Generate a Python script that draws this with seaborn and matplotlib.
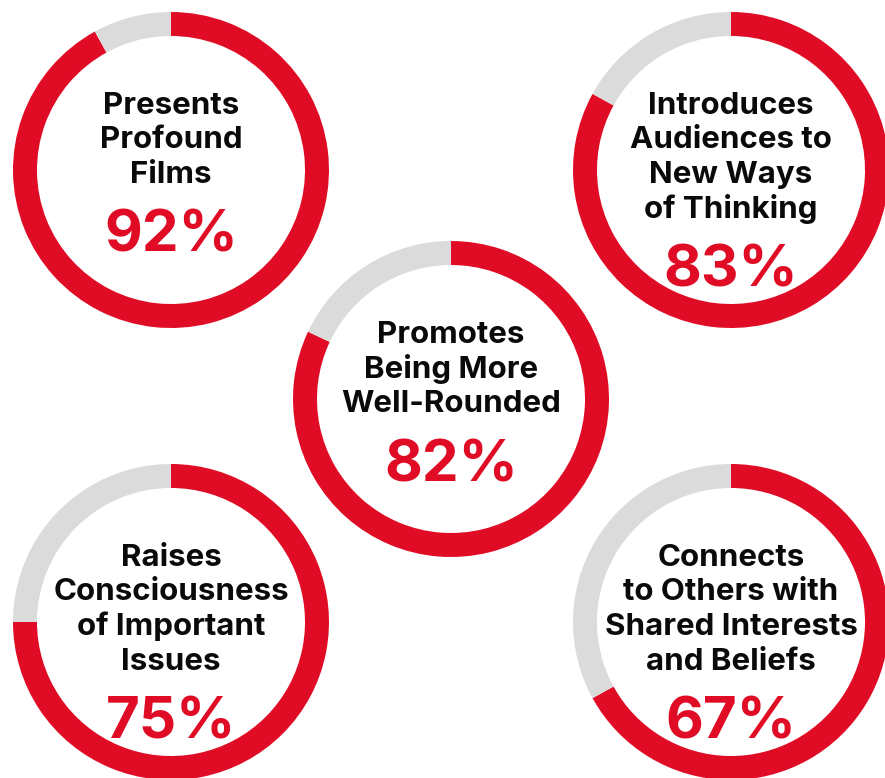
import matplotlib
matplotlib.use("Agg")
import matplotlib.pyplot as plt
import seaborn as sns

# ---- data ----
labels = [
    "Presents\nProfound\nFilms",
    "Introduces\nAudiences to\nNew Ways\nof Thinking",
    "Promotes\nBeing More\nWell-Rounded",
    "Raises\nConsciousness\nof Important\nIssues",
    "Connects\nto Others with\nShared Interests\nand Beliefs",
]
values = [92, 83, 82, 75, 67]

# ---- style ----
sns.set_theme(style="white")
plt.rcParams["font.family"] = ["Inter", "DejaVu Sans"]
RED = "#E00B24"
GREY = "#DBDBDB"
colors = sns.color_palette([RED, GREY])

W, H = 885, 778
DPI = 100
fig = plt.figure(figsize=(W / DPI, H / DPI), dpi=DPI)
fig.patch.set_facecolor("white")

# ring layout (pixel centers), radius, ring thickness
centers = [(171, 170), (731, 170), (451, 399), (171, 622), (731, 622)]
R = 158
RING = 24
PAD = 1.06

LINE_PITCH = 34.5
FIRST_BASELINE = -56
PCT_GAP = 69

for (cx, cy), lab, val in zip(centers, labels, values):
    size = 2 * R * PAD
    ax = fig.add_axes([(cx - R * PAD) / W, (H - cy - R * PAD) / H, size / W, size / H])
    ax.pie([val, 100 - val], colors=colors, startangle=90, counterclock=False,
           radius=1.0, wedgeprops=dict(width=RING / R, linewidth=0))
    ax.set_xlim(-PAD, PAD)
    ax.set_ylim(-PAD, PAD)
    ax.set_aspect("equal")
    ax.axis("off")

    lines = lab.split("\n")
    for i, ln in enumerate(lines):
        d = FIRST_BASELINE + i * LINE_PITCH
        ax.text(0, -d / R, ln, ha="center", va="baseline", fontsize=22.5,
                fontweight="bold", color="#0a0a0a")
    d = FIRST_BASELINE + (len(lines) - 1) * LINE_PITCH + PCT_GAP
    ax.text(0, -d / R, f"{val}%", ha="center", va="baseline", fontsize=42,
            fontweight="bold", color=RED)

fig.savefig("out.png", dpi=DPI, facecolor="white")
